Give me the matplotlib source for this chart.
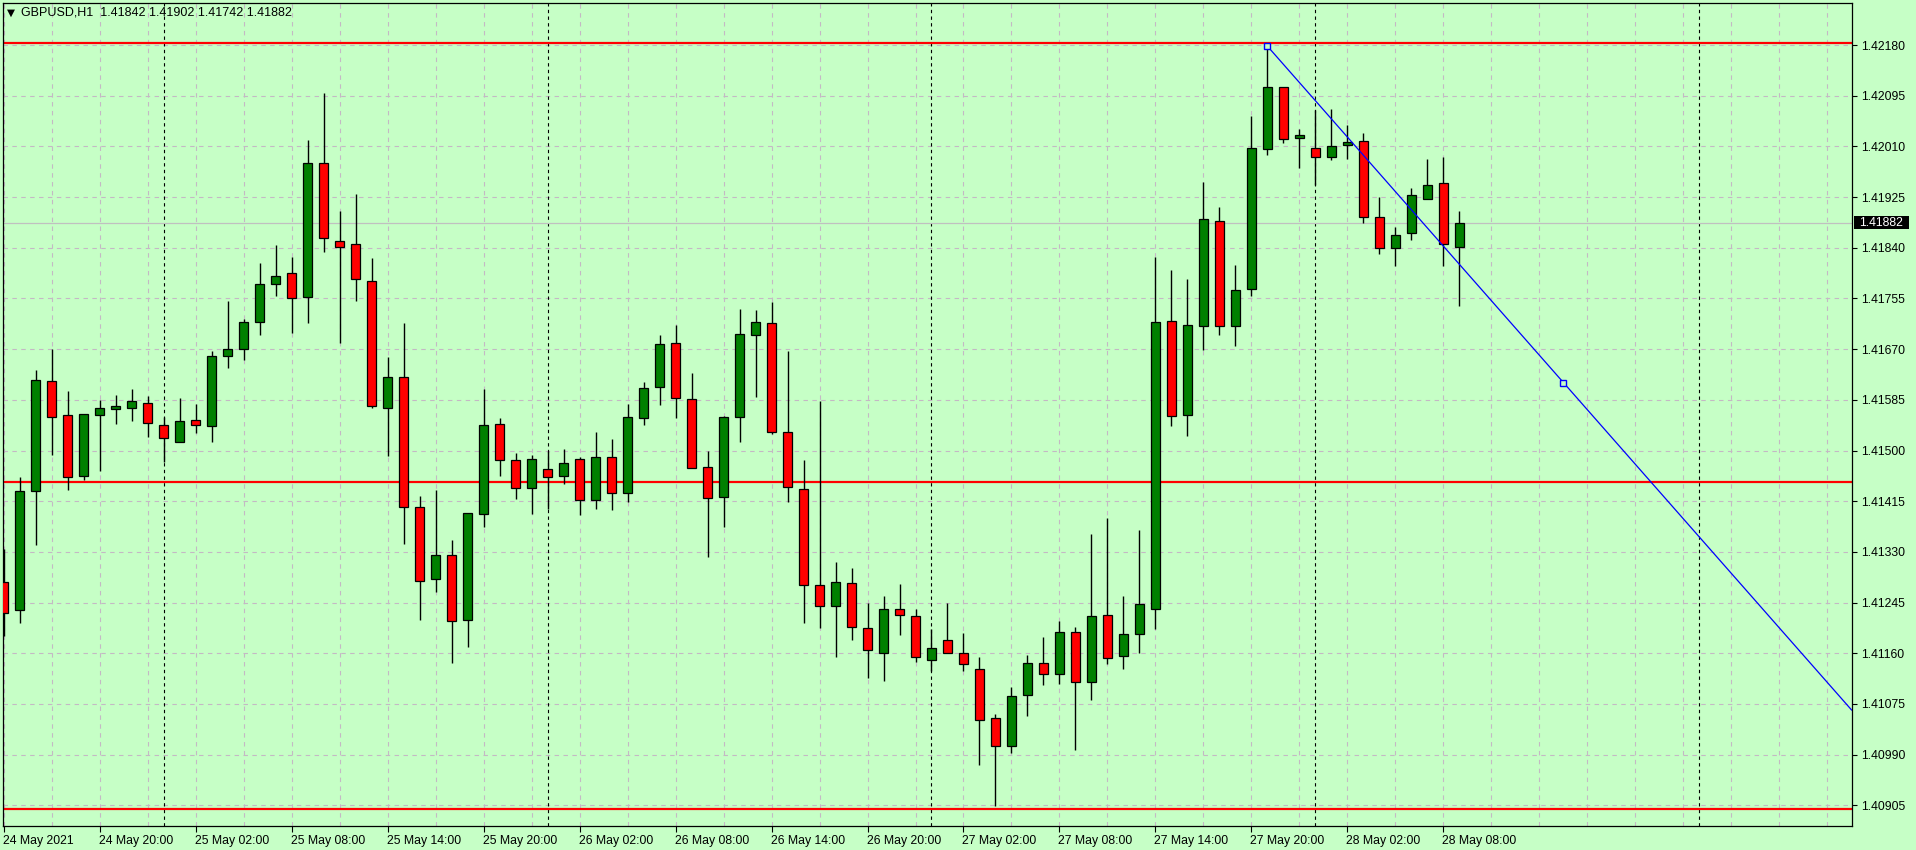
import matplotlib
matplotlib.use("Agg")
import matplotlib.pyplot as plt
import numpy as np
import pandas as pd
from matplotlib.patches import Rectangle
from matplotlib.transforms import ScaledTranslation

# ---------------- data ----------------
symbol_title = "GBPUSD,H1"
start_time = "2021-05-24 14:00"

opens = [1.41279, 1.41232, 1.41432, 1.41616, 1.41559, 1.41457, 1.41559, 1.41569, 1.41572, 1.41579,
         1.41542, 1.41515, 1.41551, 1.41541, 1.41658, 1.41671, 1.41715, 1.41779, 1.41797, 1.41757,
         1.41982, 1.41852, 1.41846, 1.41784, 1.41572, 1.41624, 1.41405, 1.41284, 1.41324, 1.41215,
         1.41393, 1.41544, 1.41484, 1.41437, 1.41469, 1.41457, 1.41485, 1.41417, 1.41489, 1.41428,
         1.41554, 1.41606, 1.41681, 1.41586, 1.41472, 1.41422, 1.41556, 1.41693, 1.41713, 1.41531,
         1.41435, 1.41274, 1.41239, 1.41277, 1.41202, 1.41160, 1.41234, 1.41222, 1.41148, 1.41183,
         1.41160, 1.41133, 1.41051, 1.41004, 1.41090, 1.41143, 1.41125, 1.41195, 1.41111, 1.41224,
         1.41155, 1.41192, 1.41234, 1.41718, 1.41560, 1.41709, 1.41885, 1.41708, 1.41771, 1.42005,
         1.42109, 1.42024, 1.42007, 1.41993, 1.42012, 1.42019, 1.41891, 1.41839, 1.41864, 1.41921,
         1.41948, 1.41842]
highs = [1.41335, 1.41456, 1.41635, 1.41670, 1.41600, 1.41562, 1.41585, 1.41593, 1.41603, 1.41591,
         1.41557, 1.41588, 1.41578, 1.41667, 1.41751, 1.41721, 1.41814, 1.41845, 1.41825, 1.42021,
         1.42100, 1.41902, 1.41930, 1.41823, 1.41657, 1.41714, 1.41424, 1.41434, 1.41350, 1.41395,
         1.41603, 1.41555, 1.41496, 1.41493, 1.41500, 1.41503, 1.41489, 1.41531, 1.41519, 1.41578,
         1.41615, 1.41694, 1.41710, 1.41630, 1.41500, 1.41558, 1.41737, 1.41736, 1.41749, 1.41667,
         1.41484, 1.41583, 1.41313, 1.41303, 1.41245, 1.41256, 1.41276, 1.41234, 1.41200, 1.41245,
         1.41194, 1.41154, 1.41058, 1.41103, 1.41157, 1.41187, 1.41214, 1.41204, 1.41360, 1.41387,
         1.41256, 1.41366, 1.41825, 1.41803, 1.41787, 1.41951, 1.41908, 1.41811, 1.42061, 1.42178,
         1.42109, 1.42039, 1.42071, 1.42073, 1.42046, 1.42032, 1.41925, 1.41875, 1.41940, 1.41989,
         1.41992, 1.41902]
lows = [1.41189, 1.41211, 1.41342, 1.41493, 1.41433, 1.41451, 1.41466, 1.41545, 1.41550, 1.41523,
        1.41480, 1.41515, 1.41530, 1.41515, 1.41639, 1.41651, 1.41694, 1.41759, 1.41697, 1.41714,
        1.41833, 1.41680, 1.41751, 1.41572, 1.41490, 1.41344, 1.41216, 1.41262, 1.41144, 1.41171,
        1.41372, 1.41458, 1.41419, 1.41394, 1.41402, 1.41443, 1.41392, 1.41402, 1.41401, 1.41414,
        1.41542, 1.41577, 1.41555, 1.41470, 1.41322, 1.41371, 1.41515, 1.41589, 1.41527, 1.41414,
        1.41211, 1.41203, 1.41154, 1.41183, 1.41119, 1.41114, 1.41191, 1.41146, 1.41130, 1.41160,
        1.41131, 1.40973, 1.40904, 1.40993, 1.41055, 1.41106, 1.41109, 1.40997, 1.41082, 1.41142,
        1.41134, 1.41160, 1.41200, 1.41541, 1.41525, 1.41669, 1.41694, 1.41675, 1.41759, 1.41996,
        1.42016, 1.41973, 1.41946, 1.41987, 1.41989, 1.41882, 1.41830, 1.41810, 1.41853, 1.41921,
        1.41810, 1.41742]
closes = [1.41227, 1.41432, 1.41619, 1.41557, 1.41455, 1.41562, 1.41571, 1.41574, 1.41583, 1.41546,
          1.41521, 1.41549, 1.41542, 1.41658, 1.41671, 1.41715, 1.41780, 1.41792, 1.41755, 1.41982,
          1.41856, 1.41842, 1.41787, 1.41574, 1.41624, 1.41405, 1.41282, 1.41324, 1.41214, 1.41395,
          1.41542, 1.41484, 1.41437, 1.41485, 1.41455, 1.41479, 1.41417, 1.41489, 1.41428, 1.41556,
          1.41604, 1.41678, 1.41588, 1.41470, 1.41420, 1.41556, 1.41695, 1.41715, 1.41531, 1.41438,
          1.41274, 1.41239, 1.41279, 1.41204, 1.41165, 1.41234, 1.41224, 1.41153, 1.41168, 1.41160,
          1.41142, 1.41048, 1.41004, 1.41088, 1.41143, 1.41125, 1.41195, 1.41111, 1.41222, 1.41152,
          1.41193, 1.41243, 1.41715, 1.41558, 1.41710, 1.41888, 1.41708, 1.41769, 1.42007, 1.42109,
          1.42023, 1.42029, 1.41993, 1.42010, 1.42017, 1.41891, 1.41839, 1.41861, 1.41928, 1.41945,
          1.41846, 1.41882]

level_prices = [1.42183, 1.41447, 1.40899]
bid_price = 1.41882
trend_times = ["2021-05-27 21:00", "2021-05-28 15:30"]
trend_prices = [1.42178, 1.41614]

price_ticks = ["1.42180", "1.42095", "1.42010", "1.41925", "1.41840", "1.41755", "1.41670",
               "1.41585", "1.41500", "1.41415", "1.41330", "1.41245", "1.41160", "1.41075",
               "1.40990", "1.40905"]
time_tick_times = ["2021-05-24 14:00", "2021-05-24 20:00", "2021-05-25 02:00", "2021-05-25 08:00",
                   "2021-05-25 14:00", "2021-05-25 20:00", "2021-05-26 02:00", "2021-05-26 08:00",
                   "2021-05-26 14:00", "2021-05-26 20:00", "2021-05-27 02:00", "2021-05-27 08:00",
                   "2021-05-27 14:00", "2021-05-27 20:00", "2021-05-28 02:00", "2021-05-28 08:00"]
time_tick_labels = ["24 May 2021", "24 May 20:00", "25 May 02:00", "25 May 08:00", "25 May 14:00",
                    "25 May 20:00", "26 May 02:00", "26 May 08:00", "26 May 14:00", "26 May 20:00",
                    "27 May 02:00", "27 May 08:00", "27 May 14:00", "27 May 20:00", "28 May 02:00",
                    "28 May 08:00"]

# ---------------- style ----------------
BG = "#C6FFC6"
GRID = "#C4B8C4"
UP = "#008000"
DOWN = "#FF0000"
FONT = "Liberation Sans"

W, H = 1916, 850
fig = plt.figure(figsize=(W / 100, H / 100), dpi=100, facecolor=BG)
ax_left, ax_right, ax_top, ax_bot = 3, 1852, 2.5, 826
ax = fig.add_axes([ax_left / W, (H - ax_bot) / H, (ax_right - ax_left) / W, (ax_bot - ax_top) / H])
ax.set_facecolor(BG)

t0 = pd.Timestamp(start_time)
def to_x(t):
    return (pd.Timestamp(t) - t0) / pd.Timedelta(hours=1)

o = np.array(opens); h = np.array(highs); l = np.array(lows); c = np.array(closes)
x = np.arange(len(o))

xmin, xmax = -0.04, 115.54
ymin, ymax = 1.408703, 1.422513
ax.set_xlim(xmin, xmax)
ax.set_ylim(ymin, ymax)

# grid
ptick_vals = [float(s) for s in price_ticks]
for pv in ptick_vals:
    ax.axhline(pv, color=GRID, lw=0.8, ls=(0, (4, 4)), zorder=0)
for gx in range(0, int(xmax) + 1, 3):
    ax.axvline(gx, color=GRID, lw=0.8, ls=(0, (4, 4)), zorder=0)

# day separators
days = pd.date_range(t0.normalize() + pd.Timedelta(days=1), periods=5, freq="D")
for d in days:
    xs = to_x(d)
    if xmin < xs < xmax:
        ax.axvline(xs, color="black", lw=0.8, ls=(0, (3, 3)), zorder=1)

# bid line
ax.axhline(bid_price, color="#C0C0C0", lw=0.9, zorder=1)

# horizontal levels
for lp in level_prices:
    ax.axhline(lp, color="#FF0000", lw=1.6, zorder=2)

# candles
ax.vlines(x, l, h, color="black", lw=1.0, zorder=3)
up = c >= o
body_lo = np.minimum(o, c)
body_h = np.abs(c - o)
colors = np.where(up, UP, DOWN)
ax.bar(x, body_h, bottom=body_lo, width=0.6, color=colors, edgecolor="black",
       linewidth=0.9, zorder=4)

# trend line (ray)
tx = [to_x(t) for t in trend_times]
slope = (trend_prices[1] - trend_prices[0]) / (tx[1] - tx[0])
ray_end_y = trend_prices[0] + slope * (xmax - tx[0])
ax.plot([tx[0], xmax], [trend_prices[0], ray_end_y], color="#0000FF", lw=0.9, zorder=5,
        solid_capstyle="butt")
ax.plot(tx, trend_prices, ls="none", marker="s", ms=4.5, mfc=BG, mec="#0000FF", mew=1.0,
        zorder=6)

# axes / ticks
for sp in ax.spines.values():
    sp.set_color("black")
    sp.set_linewidth(0.9)
ax.yaxis.tick_right()
ax.set_yticks(ptick_vals)
ax.set_yticklabels(price_ticks, fontfamily=FONT, fontsize=8.8)
ax.tick_params(axis="y", direction="out", length=3.5, width=0.8, pad=3, colors="black")

ax.set_xticks([to_x(t) for t in time_tick_times])
ax.set_xticklabels(time_tick_labels, fontfamily=FONT, fontsize=8.8)
ax.tick_params(axis="x", direction="out", length=4, width=0.8, pad=2.5, colors="black")
off = ScaledTranslation(-1 / 100, 0, fig.dpi_scale_trans)
for lbl in ax.get_xticklabels():
    lbl.set_horizontalalignment("left")
    lbl.set_transform(lbl.get_transform() + off)

# bid price label on axis (black box, white text)
fig.canvas.draw()
bid_px = ax.transData.transform((0, bid_price))[1]
fig.patches.append(Rectangle((1854, bid_px - 6.5), 55, 13, transform=None, facecolor="black",
                             edgecolor="none", zorder=10))
fig.text(1859 / W, bid_px / H, f"{bid_price:.5f}", fontfamily=FONT, fontsize=8.8,
         color="white", ha="left", va="center", zorder=11)

# header
fig.text(7 / W, 1 - 12.7 / H, "\u25BC", fontfamily="DejaVu Sans", fontsize=7.5,
         va="center", ha="left", color="black")
header = f"{symbol_title}  {opens[-1]:.5f} {highs[-1]:.5f} {lows[-1]:.5f} {closes[-1]:.5f}"
fig.text(21 / W, 1 - 12.7 / H, header, fontfamily=FONT, fontsize=9, va="center", ha="left",
         color="black")

fig.savefig("out.png", dpi=100, facecolor=BG)
